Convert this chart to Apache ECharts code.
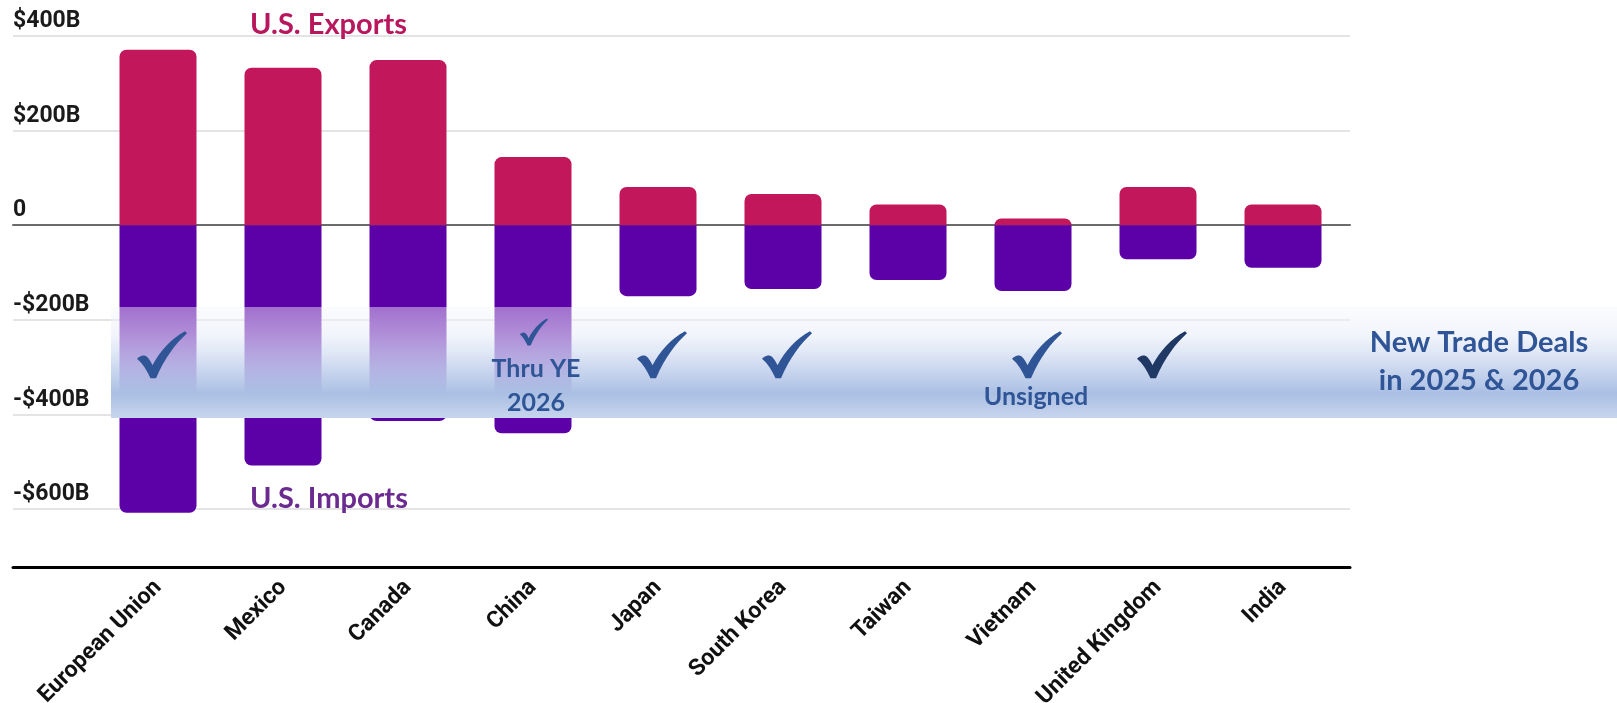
<!DOCTYPE html>
<html>
<head>
<meta charset="utf-8">
<script src="https://cdn.jsdelivr.net/npm/echarts@6/dist/echarts.min.js"></script>
<style>
  html, body { margin: 0; padding: 0; background: #fff; }
  #chart { width: 1617px; height: 703px; }
</style>
</head>
<body>
<div id="chart"></div>
<script>
// US goods trade with top partners, $ billions
const countries = ['European Union', 'Mexico', 'Canada', 'China', 'Japan', 'South Korea', 'Taiwan', 'Vietnam', 'United Kingdom', 'India']
const exportsB = [371, 333, 349, 144, 81, 66, 44, 14, 81, 44]
const importsB = [-608, -508, -414, -440, -150, -135, -116, -139, -72, -90]

// partners with new trade deals (check marks) and the notes under some of them
const dealCountries = ['European Union', 'China', 'Japan', 'South Korea', 'Vietnam', 'United Kingdom']
const noteCountries = ['China', 'Vietnam']
const noteTexts = ['Thru YE\n2026', 'Unsigned']

const BLUE = '#2f5597'
const LABEL_FONT = 'Roboto, "Liberation Sans", Arial, sans-serif'
const NOTE_FONT = 'Lato, "Open Sans", sans-serif'
// brush style check mark
const CHECK = 'path://M0,55 C6,48 14,46 20,51 C24,55 28,61 31,68 C46,40 68,15 96,0 L100,4 C78,24 56,52 38,94 L27,94 C20,79 12,65 0,55 Z'

function fmtB(v) {
  if (v === 0) return '0'
  return (v < 0 ? '-' : '') + '$' + Math.abs(v) + 'B'
}

const chart = echarts.init(document.getElementById('chart'))

const option = {
  animation: false,
  grid: [
    // full width: gridlines, y labels
    { left: 13, right: 267, top: 36, bottom: 194, outerBoundsMode: 'none', containLabel: false },
    // bars
    { left: 95.5, right: 271.5, top: 36, bottom: 194, outerBoundsMode: 'none', containLabel: false }
  ],
  xAxis: [
    {
      gridIndex: 0, type: 'category', data: [], offset: 58,
      axisLine: { onZero: false, lineStyle: { color: '#000', width: 3 } },
      axisTick: { show: false }, axisLabel: { show: false }
    },
    {
      gridIndex: 0, type: 'category', data: [],
      axisLine: { onZero: true, lineStyle: { color: '#6b6b6b', width: 2 } },
      axisTick: { show: false }, axisLabel: { show: false }
    },
    {
      gridIndex: 1, type: 'category', data: countries, offset: 58,
      axisLine: { show: false, onZero: false },
      axisTick: { show: false },
      axisLabel: {
        rotate: 45, margin: 17, interval: 0,
        fontFamily: LABEL_FONT, fontWeight: 'bold', fontSize: 23, color: '#111'
      }
    }
  ],
  yAxis: [
    {
      gridIndex: 0, type: 'value', min: -600, max: 400, interval: 200,
      axisLine: { show: false }, axisTick: { show: false },
      splitLine: { lineStyle: { color: '#e4e4e4', width: 2 } },
      axisLabel: {
        inside: true, margin: 0, verticalAlign: 'bottom', padding: [0, 0, 3, 0],
        fontFamily: LABEL_FONT, fontWeight: 'bold', fontSize: 23, color: '#1a1a1a',
        formatter: fmtB
      }
    },
    { gridIndex: 1, type: 'value', min: -600, max: 400, interval: 200, show: false }
  ],
  graphic: [
    {
      type: 'rect', z: 5, silent: true,
      shape: { x: 111, y: 307, width: 1506, height: 111 },
      style: {
        fill: new echarts.graphic.LinearGradient(0, 0, 0, 1, [
          { offset: 0, color: 'rgba(246,248,252,0.45)' },
          { offset: 0.25, color: 'rgba(232,237,248,0.6)' },
          { offset: 0.55, color: 'rgba(195,209,237,0.85)' },
          { offset: 0.78, color: 'rgba(170,191,227,1)' },
          { offset: 1, color: 'rgba(200,213,238,1)' }
        ])
      }
    },
    {
      type: 'text', z: 20, x: 250, y: 25,
      style: { text: 'U.S. Exports', verticalAlign: 'middle', fontFamily: NOTE_FONT, fontWeight: 'bold', fontSize: 29, fill: '#b8175e' }
    },
    {
      type: 'text', z: 20, x: 250, y: 499,
      style: { text: 'U.S. Imports', verticalAlign: 'middle', fontFamily: NOTE_FONT, fontWeight: 'bold', fontSize: 29, fill: '#6a2a90' }
    },
    {
      type: 'text', z: 20, x: 1479, y: 362,
      style: {
        text: 'New Trade Deals\nin 2025 & 2026', align: 'center', verticalAlign: 'middle', lineHeight: 38,
        fontFamily: NOTE_FONT, fontWeight: 'bold', fontSize: 29, fill: BLUE
      }
    }
  ],
  series: [
    {
      name: 'U.S. Exports', type: 'bar', xAxisIndex: 2, yAxisIndex: 1, stack: 'trade',
      barWidth: 77, data: exportsB, clip: false,
      itemStyle: { color: '#c2185b', borderRadius: [7, 7, 0, 0] }
    },
    {
      name: 'U.S. Imports', type: 'bar', xAxisIndex: 2, yAxisIndex: 1, stack: 'trade',
      barWidth: 77, data: importsB, clip: false,
      itemStyle: { color: '#5c00a8', borderRadius: [0, 0, 7, 7] }
    },
    {
      name: 'Deals', type: 'scatter', xAxisIndex: 2, yAxisIndex: 1, zlevel: 1,
      symbol: CHECK, symbolSize: [50, 47], symbolOffset: [4, 0],
      itemStyle: { color: BLUE, opacity: 1 },
      data: dealCountries.map(c => {
        if (c === 'China') return { value: [c, -226], symbolSize: [28, 27], symbolOffset: [1, 0] }
        if (c === 'United Kingdom') return { value: [c, -274], itemStyle: { color: '#1f3864', opacity: 1 } }
        return { value: [c, -274] }
      })
    },
    {
      name: 'Notes', type: 'scatter', xAxisIndex: 2, yAxisIndex: 1, zlevel: 1,
      symbolSize: 1, itemStyle: { color: 'rgba(0,0,0,0)', opacity: 1 },
      label: {
        show: true, position: 'inside', formatter: p => p.data.note, offset: [3, 0],
        fontFamily: NOTE_FONT, fontWeight: 'bold', fontSize: 25, lineHeight: 34, color: BLUE
      },
      data: noteCountries.map((c, i) => ({ value: [c, i === 0 ? -340 : -363], note: noteTexts[i] }))
    }
  ]
}

chart.setOption(option)
</script>
</body>
</html>
